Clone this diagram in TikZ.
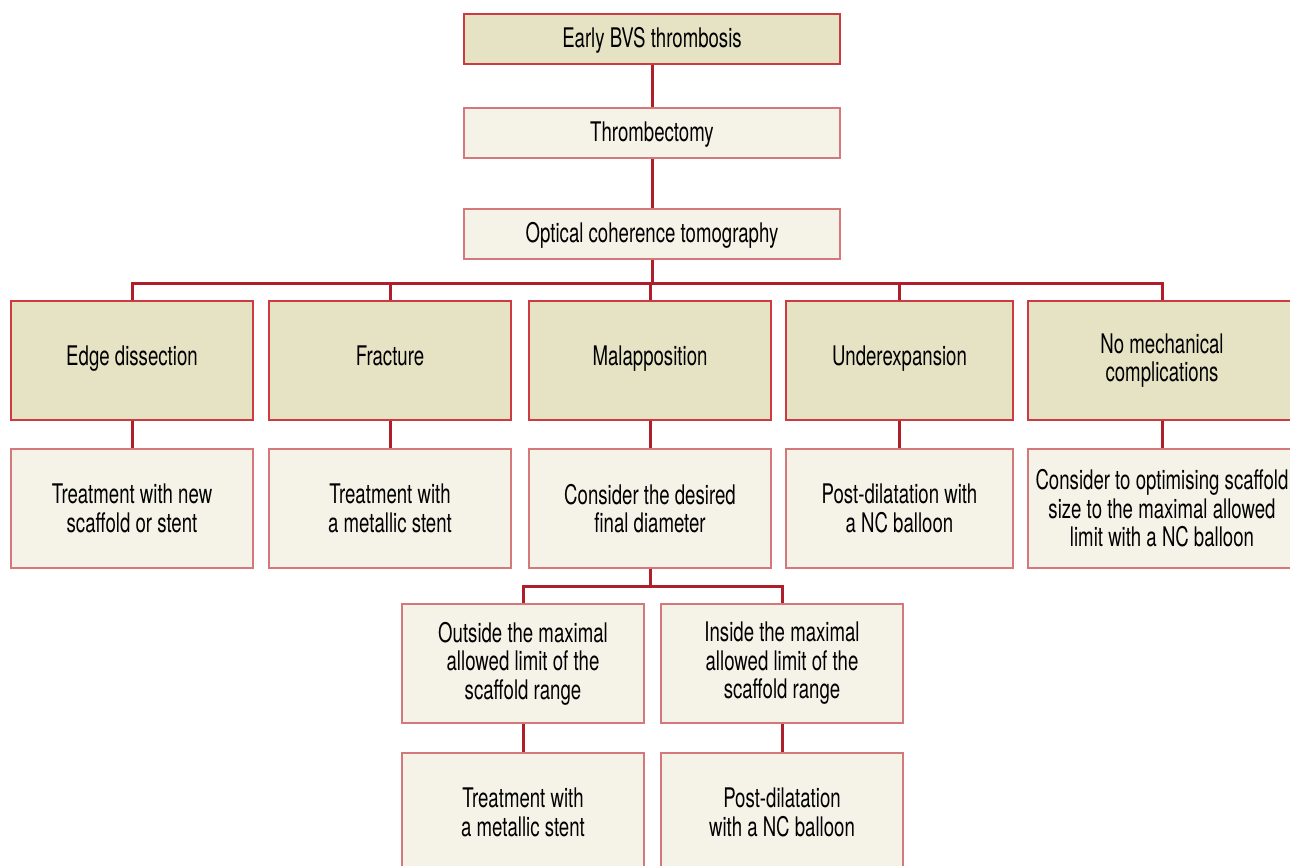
\documentclass[tikz,border=0pt]{standalone}
\usepackage{fontspec}
\setmainfont[FakeStretch=0.69]{TeX Gyre Heros}
\definecolor{boxdark}{HTML}{E6E2C4}
\definecolor{boxlight}{HTML}{F5F3E8}
\definecolor{bordark}{HTML}{CC3A42}
\definecolor{borlight}{HTML}{D4787C}
\definecolor{linered}{HTML}{AE1F2B}
\tikzset{
  base/.style={rectangle, inner sep=0pt, align=center, text=black,
    font=\fontsize{27}{28.5}\selectfont, line width=1.3pt},
  oneline/.style={text height=19.5pt, text depth=2pt},
  catline/.style={text height=19.5pt, text depth=9pt},
  topbox/.style={base, oneline, fill=boxdark, draw=bordark, minimum width=376pt, minimum height=50pt},
  headbox/.style={base, oneline, fill=boxlight, draw=borlight, minimum width=376pt, minimum height=50pt},
  catbox/.style={base, fill=boxdark, draw=bordark, minimum width=242pt, minimum height=119pt},
  actbox/.style={base, fill=boxlight, draw=borlight, minimum width=242pt, minimum height=119pt},
  conn/.style={draw=linered, line width=3pt}
}
\begin{document}
\begin{tikzpicture}[x=1pt,y=-1pt]
\useasboundingbox (0,0) rectangle (1290,865);
% top chain
\node[topbox]  (early) at (652,39)  {Early BVS thrombosis};
\node[headbox] (thr)   at (652,133) {Thrombectomy};
\node[headbox] (oct)   at (652,234) {Optical coherence tomography};
% categories
\node[catbox, catline] (ed)  at (132,360.5) {Edge dissection};
\node[catbox, catline] (fr)  at (390,360.5) {Fracture};
\node[catbox, catline] (mal) at (650,360.5) {Malapposition};
\node[catbox, catline, minimum width=227pt] (und) at (899.5,360.5) {Underexpansion};
\node[catbox, minimum width=268pt] (nm)  at (1162,360.5) {No mechanical\\complications};
% actions
\node[actbox] (ed2)  at (132,508.5) {Treatment with new\\scaffold or stent};
\node[actbox] (fr2)  at (390,508.5) {Treatment with\\a metallic stent};
\node[actbox] (mal2) at (650,508.5) {Consider the desired\\final diameter};
\node[actbox, minimum width=227pt] (und2) at (899.5,508.5) {Post-dilatation with\\a NC balloon};
\node[actbox, minimum width=268pt] (nm2)  at (1162,508.5) {Consider to optimising scaffold\\size to the maximal allowed\\limit with a NC balloon};
% malapposition branches
\node[actbox] (out) at (523,663.5) {Outside the maximal\\allowed limit of the\\scaffold range};
\node[actbox] (ins) at (782,663.5) {Inside the maximal\\allowed limit of the\\scaffold range};
\node[actbox] (out2) at (523,812.5) {Treatment with\\a metallic stent};
\node[actbox] (ins2) at (782,812.5) {Post-dilatation\\with a NC balloon};
% connectors
\draw[conn] (early.south) -- (thr.north);
\draw[conn] (thr.south) -- (oct.north);
\foreach \c in {ed,fr,mal,und,nm}{
  \draw[conn] (oct.south) -- ++(0,24) -| (\c.north);
}
\draw[conn] (ed.south) -- (ed2.north);
\draw[conn] (fr.south) -- (fr2.north);
\draw[conn] (mal.south) -- (mal2.north);
\draw[conn] (und.south) -- (und2.north);
\draw[conn] (nm.south) -- (nm2.north);
\draw[conn] (mal2.south) -- ++(0,17.5) -| (out.north);
\draw[conn] (mal2.south) -- ++(0,17.5) -| (ins.north);
\draw[conn] (out.south) -- (out2.north);
\draw[conn] (ins.south) -- (ins2.north);
\end{tikzpicture}
\end{document}
